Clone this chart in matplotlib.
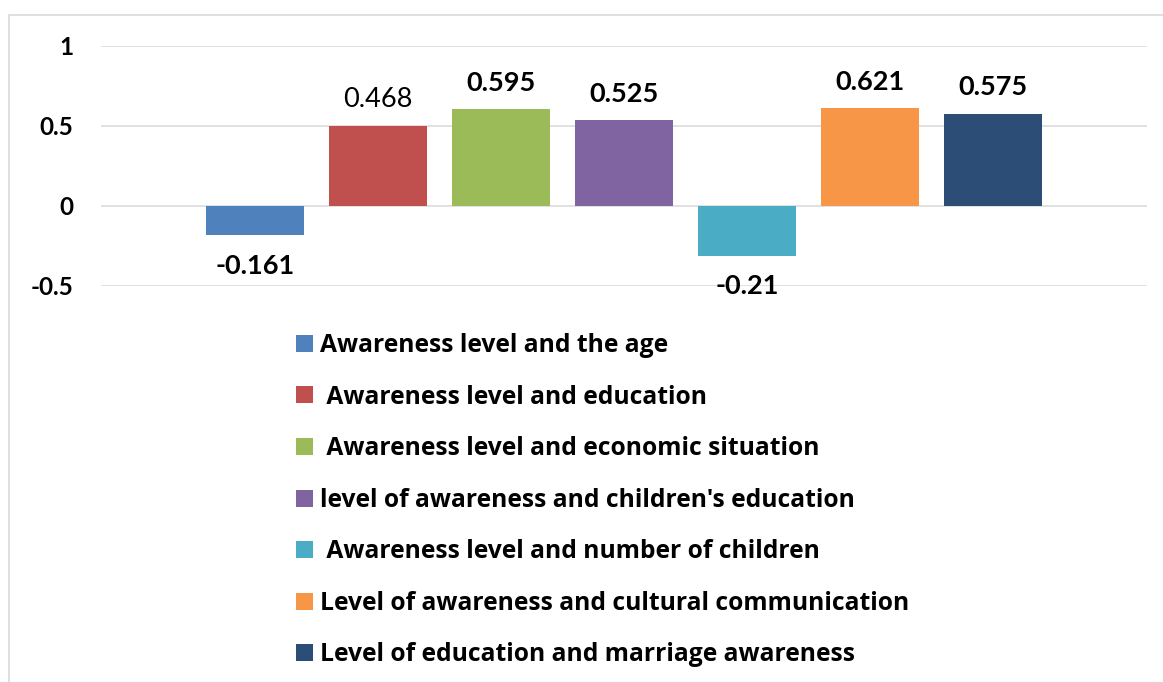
import matplotlib
matplotlib.use("Agg")
import matplotlib.pyplot as plt
from matplotlib.patches import Rectangle

plt.rcParams["font.family"] = ["Lato", "DejaVu Sans"]

# bar heights as drawn, and the value labels printed above/below them
series = [
    "Awareness level and the age",
    " Awareness level and education",
    " Awareness level and economic situation",
    "level of awareness and children's education",
    " Awareness level and number of children",
    "Level of awareness and cultural communication",
    "Level of education and marriage awareness",
]
heights = [-0.183, 0.50, 0.604, 0.536, -0.313, 0.611, 0.574]
value_labels = ["-0.161", "0.468", "0.595", "0.525", "-0.21", "0.621", "0.575"]
colors = ["#4F81BD", "#C0504D", "#9BBB59", "#8064A2", "#4BACC6", "#F79646", "#2C4D75"]
label_weights = ["bold", "normal", "bold", "bold", "bold", "bold", "bold"]

yticks = [-0.5, 0, 0.5, 1]
ytick_labels = ["-0.5", "0", "0.5", "1"]

W, H = 1163, 682
fig = plt.figure(figsize=(W / 100, H / 100), dpi=100)

# outer chart frame (cut off at the right and bottom like the original)
fig.patches.append(Rectangle((9 / W, -0.1), 1.2, 1.1 - 15 / H, transform=fig.transFigure,
                             fill=False, edgecolor="#d9d9d9", linewidth=1.2))

ax = fig.add_axes([101 / W, 1 - 285.7 / H, 1046 / W, 240 / H])

for i, (h, c, name) in enumerate(zip(heights, colors, series)):
    ax.bar(i, h, width=0.79, color=c, label=name, zorder=3)
    off = 19 if h >= 0 else -22
    ax.annotate(value_labels[i], (i, h), xytext=(0, off), textcoords="offset points",
                ha="center", va="center", fontsize=19.5, fontweight=label_weights[i])

ax.set_xlim(-1.252, 7.252)
ax.set_ylim(-0.5, 1)
ax.set_yticks(yticks)
ax.set_yticklabels(ytick_labels, fontsize=17.5, fontweight="bold")
ax.set_xticks([])
ax.tick_params(axis="y", length=0, pad=20)
ax.grid(axis="y", color="#d9d9d9", linewidth=1.1, zorder=0)
for s in ax.spines.values():
    s.set_visible(False)

fig.legend(loc="upper left", bbox_to_anchor=(296 / W, 1 - 333 / H), frameon=False,
           prop={"family": "Open Sans", "size": 17.7, "weight": "bold"},
           handlelength=0.69, handleheight=0.69, handletextpad=0.28,
           labelspacing=1.08, borderpad=0, borderaxespad=0)

fig.savefig("out.png", dpi=100)
